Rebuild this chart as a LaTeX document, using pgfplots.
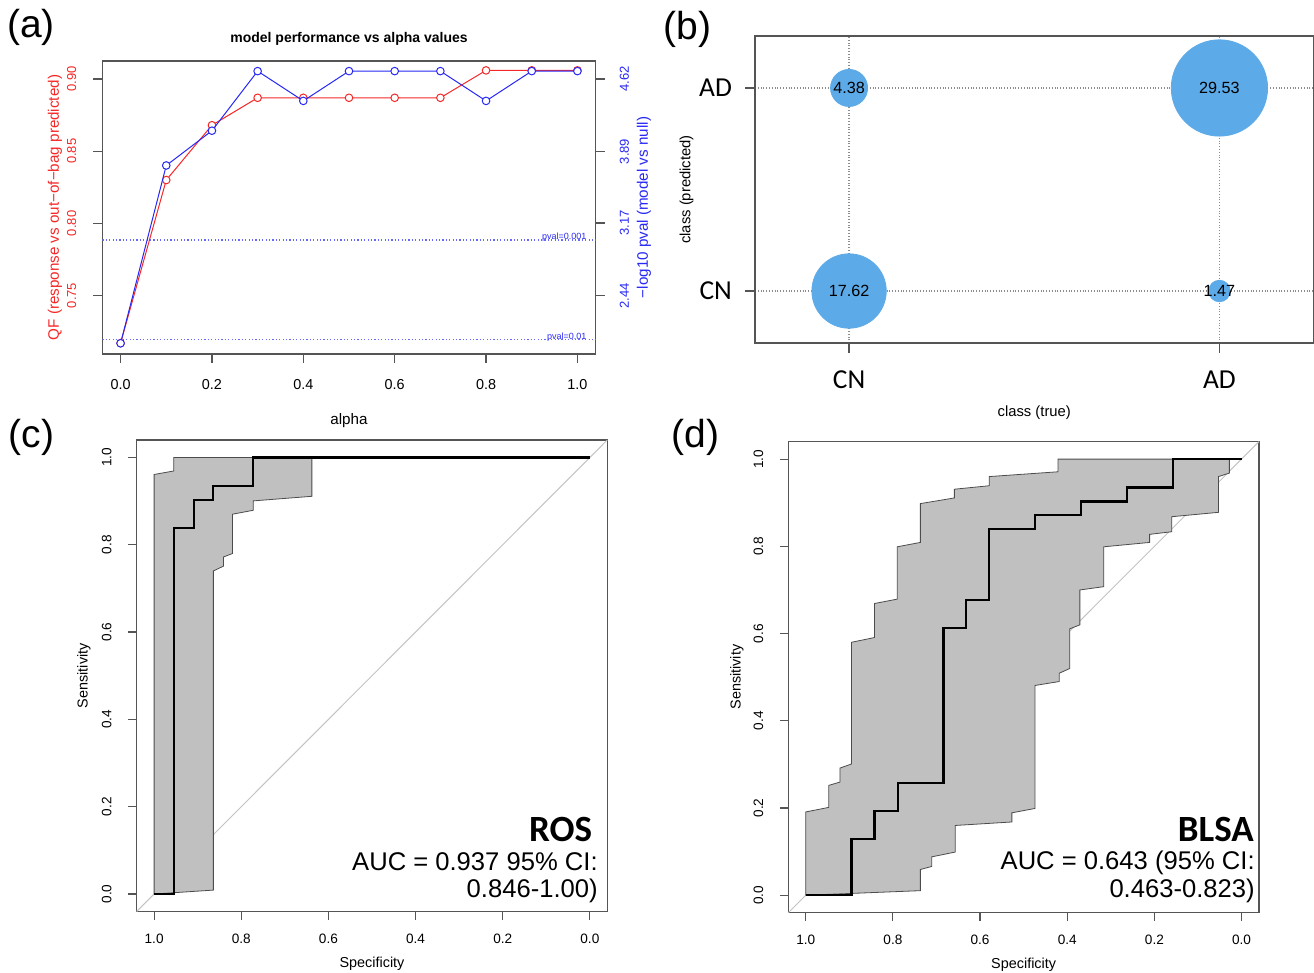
\documentclass[border=0pt]{standalone}
\usepackage{pgfplots}
\pgfplotsset{compat=1.18}
\usepackage{fontspec}
\setmainfont{Liberation Sans}
\newfontfamily\calibri{Carlito}

\definecolor{bubble}{RGB}{92,170,232}
\definecolor{boxgray}{RGB}{85,85,85}
\definecolor{band}{RGB}{192,192,192}
\definecolor{diag}{RGB}{195,195,195}
\definecolor{rred}{RGB}{245,40,40}
\definecolor{rblue}{RGB}{40,40,245}

\newcommand{\fs}[1]{\fontsize{#1}{#1}\selectfont}

\pgfplotsset{
  rplot/.style={
    scale only axis, anchor=south west,
    axis line style={boxgray, line width=0.6pt},
    tick style={boxgray, line width=0.6pt},
    tick align=outside, major tick length=4.5pt,
    xtick pos=bottom, ytick pos=left,
    tick label style={font=\fs{6.8}},
    label style={font=\fs{7.2}},
  },
  roc/.style={rplot, x dir=reverse,
    xmin=-0.04, xmax=1.04, ymin=-0.04, ymax=1.04,
    xtick={0,0.2,0.4,0.6,0.8,1}, xticklabels={0.0,0.2,0.4,0.6,0.8,1.0},
    ytick={0,0.2,0.4,0.6,0.8,1}, yticklabels={0.0,0.2,0.4,0.6,0.8,1.0},
    yticklabel style={rotate=90, anchor=south},
    xticklabel shift=3.6pt, yticklabel shift=4.8pt,
    major tick length=4.2pt,
    xlabel=Specificity, ylabel=Sensitivity,
    clip=false},
}

\begin{document}
\begin{tikzpicture}

% (a) QF and p-value against alpha
\begin{axis}[rplot, at={(51.15pt,309.5pt)}, width=246.7pt, height=146.5pt,
  xmin=-0.04, xmax=1.04, ymin=0.7095, ymax=0.9125, clip=false,
  xtick={0,0.2,0.4,0.6,0.8,1}, xticklabels={0.0,0.2,0.4,0.6,0.8,1.0},
  ytick={0.75,0.8,0.85,0.9}, yticklabels={0.75,0.80,0.85,0.90},
  xticklabel style={font=\fs{7.2}},
  yticklabel style={rotate=90, anchor=south, rred, font=\fs{6.5}},
  xticklabel shift=4.5pt, yticklabel shift=5pt,
  xlabel={alpha},
  xlabel style={at={(axis description cs:0.5,-0.226)}, anchor=center, font=\fs{7.6}},
  ylabel={QF (response vs out−of−bag predicted)},
  ylabel style={at={(axis description cs:-0.0959,0.5)}, anchor=center, rred, font=\fs{7.6}},
]
\node[font=\bfseries\fs{7}, inner sep=0pt] at (axis description cs:0.5,1.075) {model performance vs alpha values};
\addplot[rred, line width=0.5pt, mark=*, mark size=1.9pt,
  mark options={fill=white, draw=rred, line width=0.5pt}] coordinates {
  (0,0.717) (0.1,0.830) (0.2,0.868) (0.3,0.887) (0.4,0.887) (0.5,0.887)
  (0.6,0.887) (0.7,0.887) (0.8,0.906) (0.9,0.906) (1.0,0.906)};
\end{axis}

\begin{axis}[rplot, at={(51.15pt,309.5pt)}, width=246.7pt, height=146.5pt,
  axis x line=none, axis y line*=right, ytick pos=right,
  xmin=-0.04, xmax=1.04, ymin=1.852, ymax=4.802,
  ytick={2.44,3.17,3.89,4.62}, yticklabels={2.44,3.17,3.89,4.62},
  yticklabel style={rotate=90, anchor=north, rblue, font=\fs{6.5}},
  yticklabel shift=4pt,
  ylabel={−log10 pval (model vs null)},
  ylabel style={at={(axis description cs:1.098,0.5)}, anchor=center, rblue, font=\fs{7.6}},
]
\addplot[rblue!70, dash pattern=on 0.6pt off 1.1pt, line width=0.6pt] coordinates {(-0.04,3) (1.04,3)};
\addplot[rblue!70, dash pattern=on 0.6pt off 1.1pt, line width=0.6pt] coordinates {(-0.04,2) (1.04,2)};
\node[anchor=base east, inner sep=0pt, font=\fs{4.5}, text=rblue] at (axis cs:1.0206,3) {pval=0.001};
\node[anchor=base east, inner sep=0pt, font=\fs{4.5}, text=rblue] at (axis cs:1.0206,2) {pval=0.01};
\addplot[rblue, line width=0.5pt, mark=*, mark size=1.9pt,
  mark options={fill=white, draw=rblue, line width=0.5pt}] coordinates {
  (0,1.96) (0.1,3.75) (0.2,4.10) (0.3,4.70) (0.4,4.40) (0.5,4.70)
  (0.6,4.70) (0.7,4.70) (0.8,4.40) (0.9,4.70) (1.0,4.70)};
\end{axis}

% (b) confusion bubbles
\begin{axis}[rplot, at={(377.5pt,315pt)}, width=279.25pt, height=153.5pt,
  xmin=0.746, xmax=2.254, ymin=0.744, ymax=2.256,
  xtick={1,2}, xticklabels={CN,AD}, ytick={1,2}, yticklabels={CN,AD},
  major tick length=5pt,
  tick label style={font=\calibri\fs{13.7}},
  xticklabel shift=5.5pt, yticklabel shift=3pt,
  grid=major, major grid style={densely dotted, black!45, line width=0.6pt},
  xlabel={class (true)},
  xlabel style={at={(axis description cs:0.5,-0.228)}, anchor=center, font=\fs{7.4}},
  ylabel={class (predicted)},
  ylabel style={at={(axis description cs:-0.1227,0.5)}, anchor=center, font=\fs{7.4}},
]
\addplot[scatter, only marks, mark=*,
  scatter/use mapped color={draw=bubble, fill=bubble},
  mark options={draw=bubble, fill=bubble},
  visualization depends on={4.43*sqrt(\thisrow{v}) \as \bubr},
  scatter/@pre marker code/.append style={/tikz/mark size=\bubr pt}]
  table {
  x y v
  1 2 4.38
  2 2 29.53
  1 1 17.62
  2 1 1.47
  };
\addplot[draw=none, mark=none, point meta=explicit symbolic,
  nodes near coords, nodes near coords align=center,
  every node near coord/.style={font=\fs{8.1}, text=black, anchor=center}]
  table[meta=v] {
  x y v
  1 2 4.38
  2 2 29.53
  1 1 17.62
  2 1 1.47
  };
\end{axis}

% (c) ROS ROC
\begin{axis}[roc, at={(68.35pt,30.75pt)}, width=235.3pt, height=235.75pt,
  xlabel style={at={(axis description cs:0.5,-0.11)}, anchor=center},
  ylabel style={at={(axis description cs:-0.112,0.5)}, anchor=center}]
\addplot[diag, line width=0.5pt] coordinates {(1.04,-0.04) (-0.04,1.04)};
\addplot[fill=band, draw=black!70, line width=0.4pt] coordinates {
  (1,0) (1,0.961) (0.955,0.969) (0.955,1) (0.638,1)
  (0.638,0.911) (0.7725,0.9005) (0.7725,0.879) (0.82,0.87) (0.82,0.78)
  (0.841,0.772) (0.841,0.751) (0.864,0.74) (0.864,0.009)} -- cycle;
\addplot[black, line width=1.1pt] coordinates {
  (1,0) (0.955,0) (0.955,0.839) (0.909,0.839) (0.909,0.903) (0.864,0.903)
  (0.864,0.935) (0.773,0.935) (0.773,1) (0,1)};
\node[anchor=base east, inner sep=0pt, font=\calibri\bfseries\fs{18.5}] at (axis cs:-0.006,0.1198) {ROS};
\node[anchor=base east, inner sep=0pt, font=\fs{12.8}] at (axis cs:-0.0188,0.055) {AUC = 0.937 95\% CI:};
\node[anchor=base east, inner sep=0pt, font=\fs{12.8}] at (axis cs:-0.0188,-0.0076) {0.846-1.00)};
\end{axis}

% (d) BLSA ROC
\begin{axis}[roc, at={(394.15pt,30.15pt)}, width=235.35pt, height=235.5pt,
  xlabel style={at={(axis description cs:0.5,-0.111)}, anchor=center},
  ylabel style={at={(axis description cs:-0.109,0.5)}, anchor=center}]
\addplot[diag, line width=0.5pt] coordinates {(1.04,-0.04) (-0.04,1.04)};
\addplot[fill=band, draw=black!70, line width=0.4pt] coordinates {
  (1,0) (1,0.191) (0.947,0.2015) (0.947,0.252) (0.9215,0.2595) (0.9215,0.2916)
  (0.895,0.301) (0.895,0.58) (0.842,0.591) (0.842,0.669) (0.79,0.679) (0.79,0.799)
  (0.737,0.809) (0.737,0.898) (0.659,0.911) (0.659,0.931) (0.579,0.939) (0.579,0.96)
  (0.421,0.971) (0.421,1) (0,1)
  (0.028,1) (0.028,0.968) (0.053,0.96) (0.053,0.878) (0.16,0.868) (0.16,0.8335)
  (0.211,0.8275) (0.211,0.809) (0.316,0.799) (0.316,0.7076) (0.371,0.70) (0.371,0.62)
  (0.394,0.611) (0.394,0.52) (0.4185,0.509) (0.4185,0.49) (0.474,0.481) (0.474,0.199)
  (0.527,0.189) (0.527,0.168) (0.657,0.16) (0.657,0.099) (0.711,0.088) (0.711,0.066)
  (0.737,0.059) (0.737,0.0105)} -- cycle;
\addplot[black, line width=1.1pt] coordinates {
  (1,0) (0.895,0) (0.895,0.129) (0.842,0.129) (0.842,0.194) (0.789,0.194)
  (0.789,0.258) (0.684,0.258) (0.684,0.613) (0.632,0.613) (0.632,0.677)
  (0.579,0.677) (0.579,0.839) (0.474,0.839) (0.474,0.871) (0.368,0.871)
  (0.368,0.903) (0.263,0.903) (0.263,0.935) (0.158,0.935) (0.158,1) (0,1)};
\node[anchor=base east, inner sep=0pt, font=\calibri\bfseries\fs{18.5}] at (axis cs:-0.029,0.1228) {BLSA};
\node[anchor=base east, inner sep=0pt, font=\fs{12.8}] at (axis cs:-0.031,0.0579) {AUC = 0.643 (95\% CI:};
\node[anchor=base east, inner sep=0pt, font=\fs{12.8}] at (axis cs:-0.031,-0.0047) {0.463-0.823)};
\end{axis}

% panel letters
\node[anchor=west, inner sep=0pt, font=\fs{19.5}] at (3.35pt,472.75pt) {(a)};
\node[anchor=west, inner sep=0pt, font=\fs{19.5}] at (331.5pt,472pt) {(b)};
\node[anchor=west, inner sep=0pt, font=\fs{19.5}] at (4.2pt,268pt) {(c)};
\node[anchor=west, inner sep=0pt, font=\fs{19.5}] at (335.5pt,268pt) {(d)};

\pgfresetboundingbox
\path[use as bounding box] (0,0) rectangle (657pt,486.5pt);
\end{tikzpicture}
\end{document}
